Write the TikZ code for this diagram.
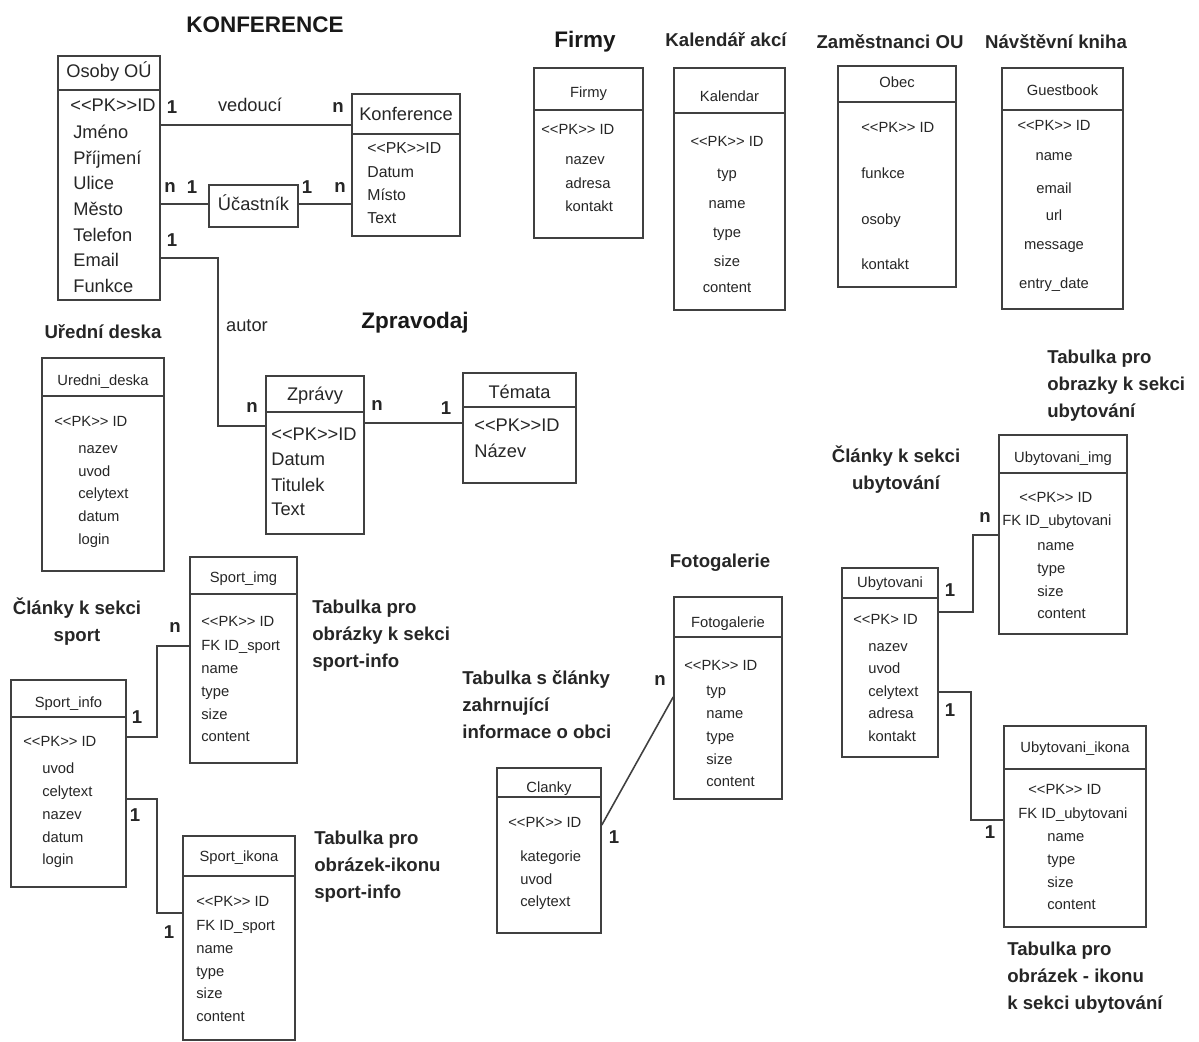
\documentclass[tikz,border=0pt]{standalone}
\usepackage{fontspec}
\setmainfont{Liberation Sans}
\usetikzlibrary{fit,calc}

\newcommand{\pk}{<\kern0pt<PK>\kern0pt>}

\tikzset{
  tbl/.style={draw=black!75,line width=0.9pt,inner sep=0pt},
  rel/.style={draw=black!75,line width=0.9pt},
  nadpis/.style={font=\fontsize{12.8}{14}\bfseries\selectfont,text=black!90,inner sep=0pt},
  popis/.style={font=\fontsize{10.6}{15.3}\bfseries\selectfont,text=black!85,inner sep=0pt},
  nasob/.style={font=\fontsize{10.6}{12}\bfseries\selectfont,text=black!85,inner sep=0pt},
  polev/.style={font=\fontsize{10.4}{12}\selectfont,text=black!85,inner sep=0pt,text height=0.75em,text depth=0.2em},
  polek/.style={font=\fontsize{9}{10}\selectfont,text=black!85,inner sep=0pt,text height=0.75em,text depth=0.2em},
  pole/.style={font=\fontsize{8.4}{10}\selectfont,text=black!85,inner sep=0pt,text height=0.75em,text depth=0.2em}
}

% #1 jmeno, #2-#5 roh, #6 delici cara, #7 y titulku, #8 titulek, #9 styl
\newcommand{\tabulka}[9]{%
  \node[tbl,fit={(#2,#3) (#4,#5)}] (#1) {};
  \draw[tbl] (#1.west |- 0,#6) -- (#1.east |- 0,#6);
  \node[#9] (#1-tit) at (#1.north |- 0,#7) {#8};}

% #1 predpona, #2 x, #3 kotva, #4 styl, #5 seznam y/text
\newcommand{\pole}[5]{%
  \foreach \y/\t [count=\i] in {#5}
    \node[#4,anchor=#3] (#1\i) at (#2,\y) {\t};}

\begin{document}
\begin{tikzpicture}[x=0.02cm,y=-0.02cm]
\useasboundingbox[fill=white] (0,0) rectangle (1199,1041);

% nadpisy
\node[nadpis] (nKonf) at (265,25) {KONFERENCE};
\node[nadpis] (nFirmy) at (585,42) {Firmy};
\node[popis] (nKal) at (726,40) {Kalendář akcí};
\node[popis] (nZam) at (890,42) {Zaměstnanci OU};
\node[popis] (nNav) at (1056,42) {Návštěvní kniha};
\node[nadpis] (nZprav) at (415,323) {Zpravodaj};
\node[popis] (nUred) at (103,332) {Uřední deska};
\node[popis] (nFoto) at (720,563) {Fotogalerie};
\node[popis,align=center] (nSport) at (77,622) {Články k sekci\\sport};
\node[popis,align=left,anchor=west] (nSimg) at (312,636) {Tabulka pro\\obrázky k sekci\\sport-info};
\node[popis,align=left,anchor=west] (nSikona) at (314,867) {Tabulka pro\\obrázek-ikonu\\sport-info};
\node[popis,align=left,anchor=west] (nClanky) at (462,705) {Tabulka s články\\zahrnující\\informace o obci};
\node[popis,align=center] (nUbyt) at (896,470) {Články k sekci\\ubytování};
\node[popis,align=left,anchor=west] (nUimg) at (1047,386) {Tabulka pro\\obrazky k sekci\\ubytování};
\node[popis,align=left,anchor=west] (nUikona) at (1007,978) {Tabulka pro\\obrázek - ikonu\\k sekci ubytování};

% konference
\tabulka{osoby}{58}{56}{160}{300}{90}{73}{Osoby OÚ}{polev}
\pole{osoby-pk}{70}{west}{polev}{107/{\pk ID}}
\pole{osoby-f}{73}{west}{polev}{134/Jméno,160/Příjmení,185/Ulice,211/Město,237/Telefon,262/Email,288/Funkce}
\tabulka{konf}{352}{94}{460}{236}{134}{116}{Konference}{polev}
\pole{konf-f}{367}{west}{polek}{149/{\pk ID},173/Datum,196/Místo,219/Text}
\node[tbl,fit={(209,185) (298,227)}] (ucast) {};
\node[polev] (ucast-tit) at (ucast.center) {Účastník};

\draw[rel] (osoby.east |- 0,125) -- (konf.west |- 0,125);
\draw[rel] (osoby.east |- 0,204) -- (ucast.west |- 0,204);
\draw[rel] (ucast.east |- 0,204) -- (konf.west |- 0,204);
\node[nasob] (m1) at (172,107) {1};
\node[polev] (lVed) at (250,107) {vedoucí};
\node[nasob] (m2) at (338,107) {n};
\node[nasob] (m3) at (170,187) {n};
\node[nasob] (m4) at (192,187) {1};
\node[nasob] (m5) at (307,187) {1};
\node[nasob] (m6) at (340,187) {n};
\node[nasob] (m7) at (172,240) {1};
\node[polev] (lAutor) at (247,327) {autor};
\node[nasob] (m8) at (252,407) {n};

% zpravodaj
\tabulka{zpravy}{266}{376}{364}{534}{412}{396}{Zprávy}{polev}
\pole{zpravy-f}{271}{west}{polev}{436/{\pk ID},461/Datum,487/Titulek,511/Text}
\tabulka{temata}{463}{373}{576}{483}{407}{394}{Témata}{polev}
\pole{temata-f}{474}{west}{polev}{427/{\pk ID},453/Název}
\draw[rel] (osoby.east |- 0,258) -| (218,426) -- (zpravy.west |- 0,426);
\draw[rel] (zpravy.east |- 0,423) -- (temata.west |- 0,423);
\node[nasob] (m9) at (377,405) {n};
\node[nasob] (m10) at (446,408) {1};

% uredni deska
\tabulka{uredni}{42}{358}{164}{571}{396}{381}{Uredni\_deska}{pole}
\pole{uredni-pk}{54}{west}{pole}{422/{\pk{} ID}}
\pole{uredni-f}{78}{west}{pole}{449/nazev,472/uvod,494/celytext,517/datum,540/login}

% horni tabulky
\tabulka{firmy}{534}{68}{643}{238}{110}{93}{Firmy}{pole}
\pole{firmy-pk}{541}{west}{pole}{130/{\pk{} ID}}
\pole{firmy-f}{565}{west}{pole}{160/nazev,184/adresa,207/kontakt}
\tabulka{kal}{674}{68}{785}{310}{113}{97}{Kalendar}{pole}
\pole{kal-f}{727}{center}{pole}{142/{\pk{} ID},174/typ,204/name,233/type,262/size,288/content}
\tabulka{obec}{838}{66}{956}{287}{102}{83}{Obec}{pole}
\pole{obec-f}{861}{west}{pole}{128/{\pk{} ID},174/funkce,220/osoby,265/kontakt}
\tabulka{guest}{1002}{68}{1123}{309}{110}{91}{Guestbook}{pole}
\pole{guest-f}{1054}{center}{pole}{126/{\pk{} ID},156/name,189/email,216/url,245/message,284/entry\_date}

% sport
\tabulka{simg}{190}{557}{297}{763}{594}{578}{Sport\_img}{pole}
\pole{simg-f}{201}{west}{pole}{622/{\pk{} ID},646/FK ID\_sport,669/name,692/type,715/size,737/content}
\tabulka{sinfo}{11}{680}{126}{887}{717}{703}{Sport\_info}{pole}
\pole{sinfo-pk}{23}{west}{pole}{742/{\pk{} ID}}
\pole{sinfo-f}{42}{west}{pole}{769/uvod,792/celytext,815/nazev,838/datum,860/login}
\tabulka{sikona}{183}{836}{295}{1040}{876}{857}{Sport\_ikona}{pole}
\pole{sikona-f}{196}{west}{pole}{902/{\pk{} ID},926/FK ID\_sport,949/name,972/type,994/size,1017/content}
\draw[rel] (sinfo.east |- 0,737) -| (157,646) -- (simg.west |- 0,646);
\draw[rel] (sinfo.east |- 0,799) -| (157,913) -- (sikona.west |- 0,913);
\node[nasob] (m11) at (137,717) {1};
\node[nasob] (m12) at (175,627) {n};
\node[nasob] (m13) at (135,815) {1};
\node[nasob] (m14) at (169,932) {1};

% clanky a fotogalerie
\tabulka{foto}{674}{597}{782}{799}{637}{623}{Fotogalerie}{pole}
\pole{foto-pk}{684}{west}{pole}{666/{\pk{} ID}}
\pole{foto-f}{706}{west}{pole}{691/typ,714/name,737/type,760/size,782/content}
\tabulka{clanky}{497}{768}{601}{933}{797}{788}{Clanky}{pole}
\pole{clanky-pk}{508}{west}{pole}{823/{\pk{} ID}}
\pole{clanky-f}{520}{west}{pole}{857/kategorie,880/uvod,902/celytext}
\draw[rel] (clanky.east |- 0,825) -- (foto.west |- 0,697);
\node[nasob] (m15) at (660,680) {n};
\node[nasob] (m16) at (614,837) {1};

% ubytovani
\tabulka{ubyt}{842}{568}{938}{757}{598}{583}{Ubytovani}{pole}
\pole{ubyt-pk}{853}{west}{pole}{620/{<\kern0pt<PK> ID}}
\pole{ubyt-f}{868}{west}{pole}{647/nazev,669/uvod,692/celytext,714/adresa,737/kontakt}
\tabulka{uimg}{999}{435}{1127}{634}{473}{458}{Ubytovani\_img}{pole}
\pole{uimg-pk}{1019}{west}{pole}{498/{\pk{} ID}}
\pole{uimg-fk}{1002}{west}{pole}{521/FK ID\_ubytovani}
\pole{uimg-f}{1037}{west}{pole}{546/name,569/type,592/size,614/content}
\tabulka{uikona}{1004}{726}{1146}{927}{769}{748}{Ubytovani\_ikona}{pole}
\pole{uikona-pk}{1028}{west}{pole}{790/{\pk{} ID}}
\pole{uikona-fk}{1018}{west}{pole}{814/FK ID\_ubytovani}
\pole{uikona-f}{1047}{west}{pole}{837/name,860/type,883/size,905/content}
\draw[rel] (ubyt.east |- 0,612) -| (973,535) -- (uimg.west |- 0,535);
\draw[rel] (ubyt.east |- 0,692) -| (971,820) -- (uikona.west |- 0,820);
\node[nasob] (m17) at (950,590) {1};
\node[nasob] (m18) at (985,517) {n};
\node[nasob] (m19) at (950,710) {1};
\node[nasob] (m20) at (990,832) {1};
\end{tikzpicture}
\end{document}
